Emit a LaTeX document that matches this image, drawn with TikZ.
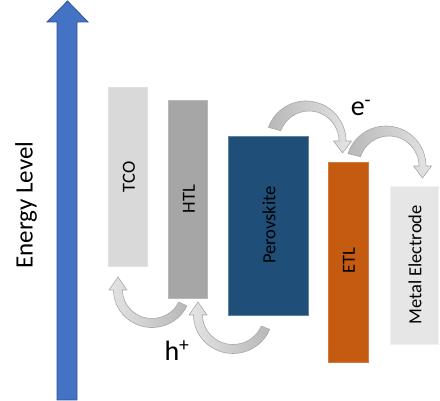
\documentclass[tikz,border=0pt]{standalone}
\usepackage{fontspec}
\setmainfont{Carlito}
\definecolor{arrowblue}{HTML}{4472C4}
\definecolor{arrowedge}{HTML}{2F528F}
\definecolor{tcoc}{HTML}{D9D9D9}
\definecolor{htlc}{HTML}{A6A6A6}
\definecolor{perc}{HTML}{1F4E79}
\definecolor{etlc}{HTML}{C55A11}
\definecolor{metc}{HTML}{E7E6E6}
\definecolor{curvedark}{HTML}{B8B8B8}
\definecolor{curvelight}{HTML}{E4E4E4}
\definecolor{curveedge}{HTML}{A8A8A8}
\tikzset{
  layerbox/.style={inner sep=0pt, outer sep=0pt, line width=0.6pt, anchor=north west},
  layerlabel/.style={inner sep=0pt, rotate=90, font=\fontsize{18.5}{20}\selectfont},
  carrier/.style={inner sep=0pt, font=\fontsize{28}{30}\selectfont},
  bendarrow/.style={draw=curveedge, line width=0.6pt, line join=round},
  tailleft/.style={bendarrow, left color=curvedark, right color=curvelight},
  tailright/.style={bendarrow, left color=curvelight, right color=curvedark},
}
\begin{document}
\begin{tikzpicture}[x=1pt,y=-1pt]
\useasboundingbox (0,0) rectangle (440,401);
% energy axis
\draw[fill=arrowblue, draw=arrowedge, line width=0.8pt, line join=miter]
  (57,400) -- (57,22) -- (47,22) -- (67.5,1) -- (88,22) -- (77,22) -- (77,400) -- cycle;
\node[inner sep=0pt, rotate=90, font=\fontsize{25}{28}\selectfont] (elevel) at (26,205) {Energy Level};
% layers
\node[layerbox, fill=tcoc, draw=tcoc!80!white, minimum width=39pt, minimum height=179pt] (tco) at (108,87) {};
\node[layerbox, fill=htlc, draw=htlc!80!white, minimum width=39pt, minimum height=198pt] (htl) at (168,100) {};
\node[layerbox, fill=perc, draw=perc!70!white, minimum width=80pt, minimum height=179pt] (per) at (228,136) {};
\node[layerbox, fill=etlc, draw=etlc!80!white, minimum width=40pt, minimum height=200pt] (etl) at (328,162) {};
\node[layerbox, fill=metc, draw=metc!60!white, minimum width=48pt, minimum height=158pt] (met) at (390,186) {};
\node[layerlabel] (tcol) at (129,177) {TCO};
\node[layerlabel] (htll) at (189,199) {HTL};
\node[layerlabel] (perl) at (269,225) {Perovskite};
\node[layerlabel] (etll) at (349,261) {ETL};
\node[layerlabel] (metl) at (415,265) {Metal Electrode};
% electron transfer arrows (tapered band)
\path[tailleft] (306,141) ++(200:40) arc[start angle=200, end angle=360, radius=40]
  -- (351.5,141) -- (342.5,153) -- (333.5,141) -- (339,141)
  arc[start angle=360, end angle=200, radius=30] -- cycle;
\path[tailleft] (386,166) ++(198:40) arc[start angle=198, end angle=360, radius=40]
  -- (431.5,166) -- (422.5,178) -- (413.5,166) -- (419,166)
  arc[start angle=360, end angle=198, radius=30] -- cycle;
% hole transfer arrows
\path[tailright] (152,290) ++(25:38.5 and 37.5) arc[start angle=25, end angle=180, x radius=38.5, y radius=37.5]
  -- (109,290) -- (118,277) -- (127,290) -- (122.5,290)
  arc[start angle=180, end angle=25, x radius=29.5, y radius=28.5] -- cycle;
\path[tailright] (233,315) ++(22:39.5 and 38.5) arc[start angle=22, end angle=180, x radius=39.5, y radius=38.5]
  -- (189,315) -- (198,302) -- (207,315) -- (202.5,315)
  arc[start angle=180, end angle=22, x radius=30.5, y radius=29.5] -- cycle;
\node[carrier] (elec) at (361,108) {e\textsuperscript{-}};
\node[carrier] (hole) at (177,351) {h\textsuperscript{+}};
\end{tikzpicture}
\end{document}
